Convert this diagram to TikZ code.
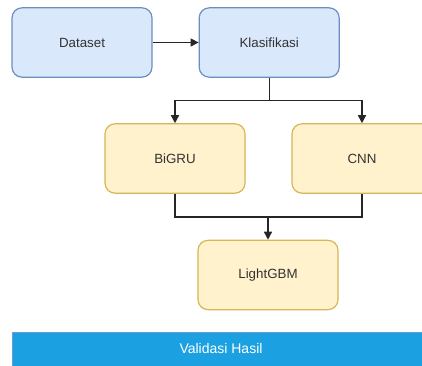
\documentclass[tikz,border=0pt]{standalone}
\usepackage{fontspec}
\setmainfont{Liberation Sans}
\usetikzlibrary{positioning,calc,arrows.meta}
\definecolor{bluefill}{HTML}{DAE8FC}
\definecolor{bluedraw}{HTML}{6C8EBF}
\definecolor{yellowfill}{HTML}{FFF2CC}
\definecolor{yellowdraw}{HTML}{D6B656}
\definecolor{barfill}{HTML}{1BA1E2}
\definecolor{bardraw}{HTML}{6C9FC8}

\tikzset{
  box/.style={rectangle, rounded corners=7.5pt, minimum width=105pt, minimum height=52pt,
    line width=0.9pt, inner sep=0pt, font=\fontsize{10pt}{12pt}\selectfont, text=black!80},
  bluebox/.style={box, fill=bluefill, draw=bluedraw},
  yellowbox/.style={box, fill=yellowfill, draw=yellowdraw},
  conn/.style={line width=1pt, black!85},
  arr/.style={conn, -{Triangle[length=6pt,width=6pt]}}
}

\begin{document}
\begin{tikzpicture}[x=0.75pt, y=-0.75pt, node distance=34.5pt]
       \useasboundingbox (0,0) rectangle (422,366);
       \clip (0,0) rectangle (422,366);
       \node [bluebox]  at (82,42.5)     (dataset)     {Dataset};
       \node [bluebox, right=of dataset] (klasifikasi) {Klasifikasi};
       \node [yellowbox] at (175,158.5)  (bigru)       {BiGRU};
       \node [yellowbox] at (362,158.5)  (cnn)         {CNN};
       \node [yellowbox] at (268,275)    (lightgbm)    {LightGBM};
       \node [rectangle, fill=barfill, draw=bardraw, line width=0.75pt, minimum width=420pt,
              minimum height=25.5pt, anchor=north west, inner sep=0pt] at (12,332) (validasi) {};
       \node [text=white, font=\fontsize{10.5pt}{12pt}\selectfont] at (221,349) (validasilabel) {Validasi Hasil};

       \coordinate (split) at ($(klasifikasi.south)+(0,23)$);
       \coordinate (merge) at (268,217);

       \draw [arr] (dataset) -- (klasifikasi);
       \draw [conn] (klasifikasi.south) -- (split);
       \draw [arr] (split) -| (bigru.north);
       \draw [arr] (split) -| (cnn.north);
       \draw [conn] (bigru.south) |- (merge);
       \draw [conn] (cnn.south) |- (merge);
       \draw [arr] (merge) -- (lightgbm.north);
    \end{tikzpicture}
\end{document}
